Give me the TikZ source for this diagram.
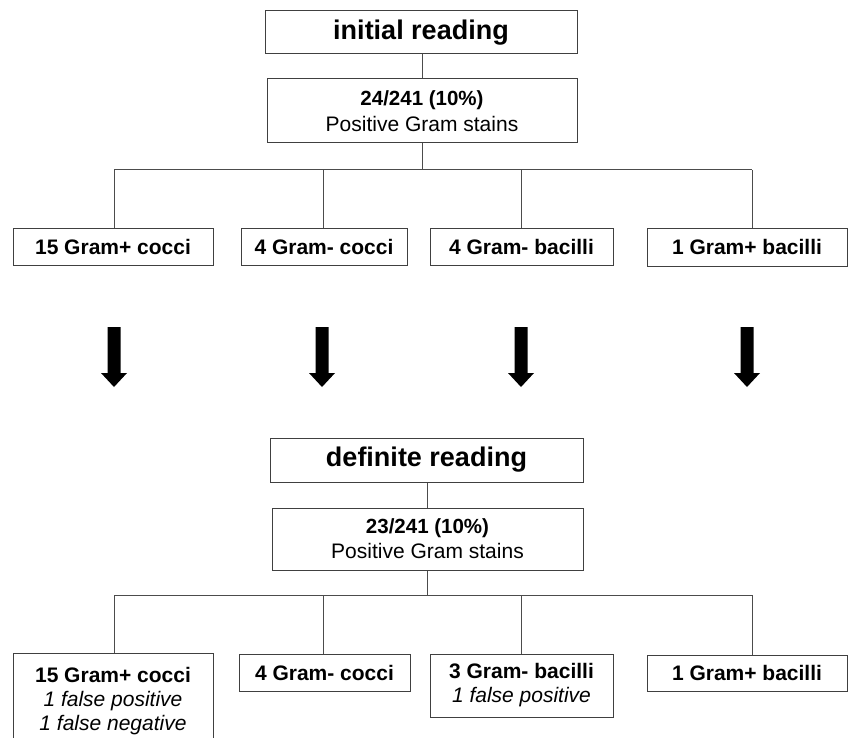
\documentclass[tikz,border=0pt]{standalone}
\usepackage{fontspec}
\setmainfont{Liberation Sans}
\begin{document}
\begin{tikzpicture}[x=1pt,y=-1pt,
  box/.style={draw=black!75, line width=1pt, fill=white, inner sep=0pt, align=center, font=\fontsize{21}{24}\selectfont},
  title/.style={box, font=\fontsize{27}{30}\selectfont\bfseries},
  conn/.style={draw=black!70, line width=1pt},
  bigarrow/.style={fill=black}]
\useasboundingbox (0,0) rectangle (848,738);

% upper part
\node[title, minimum width=312, minimum height=43] (init) at (421,32.5) {initial reading};
\node[box, minimum width=310, minimum height=64, font=\fontsize{21}{26}\selectfont] (pos1) at (422,111)
  {{\fontsize{20.5}{26}\selectfont\bfseries 24/241 (10\%)}\\Positive Gram stains};
\node[box, minimum width=200, minimum height=37, font=\fontsize{21}{24}\selectfont\bfseries] (a1) at (113,246.5) {15 Gram+ cocci};
\node[box, minimum width=166, minimum height=37, font=\fontsize{21}{24}\selectfont\bfseries] (a2) at (324,246.5) {4 Gram- cocci};
\node[box, minimum width=183, minimum height=37, font=\fontsize{21}{24}\selectfont\bfseries] (a3) at (521.5,246.5) {4 Gram- bacilli};
\node[box, minimum width=200, minimum height=38, font=\fontsize{21}{24}\selectfont\bfseries] (a4) at (747,247) {1 Gram+ bacilli};

\coordinate (h1) at (114,170);
\coordinate (h2) at (323,170);
\coordinate (h3) at (521,170);
\coordinate (h4) at (752,170);
\draw[conn] (pos1.north |- init.south) -- (pos1.north);
\draw[conn] (pos1.south) -- (pos1.south |- h1);
\draw[conn] (h1) -- (h4);
\draw[conn] (h1) -- (a1.north -| h1);
\draw[conn] (h2) -- (a2.north -| h2);
\draw[conn] (h3) -- (a3.north -| h3);
\draw[conn] (h4) -- (a4.north -| h4);

% block arrows
\foreach \x in {114,322,521,747}{
  \fill[bigarrow] (\x-6.5,327) -- (\x+6.5,327) -- (\x+6.5,373) -- (\x+13,373)
     -- (\x,387) -- (\x-13,373) -- (\x-6.5,373) -- cycle;
}

% lower part
\node[title, minimum width=313, minimum height=44] (def) at (426.5,460) {definite reading};
\node[box, minimum width=311, minimum height=62, font=\fontsize{21}{25}\selectfont] (pos2) at (427.5,539)
  {{\fontsize{20.5}{25}\selectfont\bfseries 23/241 (10\%)}\\Positive Gram stains};
\node[box, minimum width=200, minimum height=96] (b1) at (113,701.5)
  {\textbf{15 Gram+ cocci}\\\textit{1 false positive}\\\textit{1 false negative}};
\node[box, minimum width=171, minimum height=37, font=\fontsize{21}{24}\selectfont\bfseries] (b2) at (324.5,672.5) {4 Gram- cocci};
\node[box, minimum width=183, minimum height=63] (b3) at (521.5,685.5)
  {\textbf{3 Gram- bacilli}\\\textit{1 false positive}};
\node[box, minimum width=200, minimum height=36, font=\fontsize{21}{24}\selectfont\bfseries] (b4) at (747,673) {1 Gram+ bacilli};

\coordinate (k1) at (114,595);
\coordinate (k2) at (323,595);
\coordinate (k3) at (521,595);
\coordinate (k4) at (752,595);
\draw[conn] (pos2.north |- def.south) -- (pos2.north);
\draw[conn] (pos2.south) -- (pos2.south |- k1);
\draw[conn] (k1) -- (k4);
\draw[conn] (k1) -- (b1.north -| k1);
\draw[conn] (k2) -- (b2.north -| k2);
\draw[conn] (k3) -- (b3.north -| k3);
\draw[conn] (k4) -- (b4.north -| k4);
\end{tikzpicture}
\end{document}
